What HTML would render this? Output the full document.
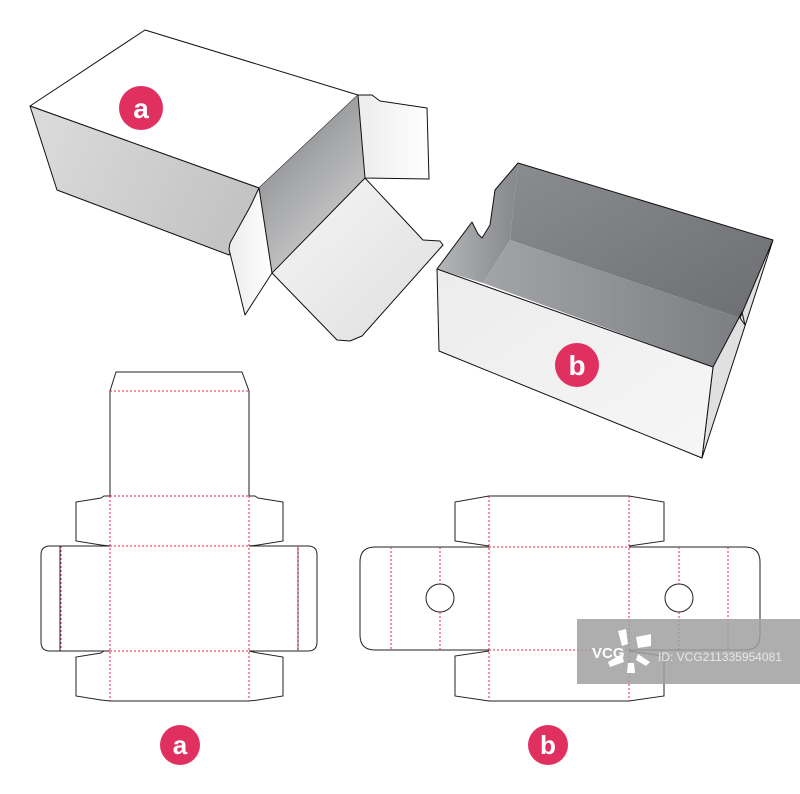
<!DOCTYPE html>
<html><head><meta charset="utf-8"><style>
html,body{margin:0;padding:0;background:#fff;}
svg{display:block;}
</style></head><body>
<svg width="800" height="794" viewBox="0 0 800 794" xmlns="http://www.w3.org/2000/svg">
<defs>
<linearGradient id="gSide" x1="0" y1="0" x2="1" y2="0.3">
<stop offset="0" stop-color="#dcdcdc"/><stop offset="1" stop-color="#c4c4c4"/></linearGradient>
<linearGradient id="gIn" x1="0" y1="0" x2="0.6" y2="1">
<stop offset="0" stop-color="#7a7c80"/><stop offset="1" stop-color="#d0d0d0"/></linearGradient>
<linearGradient id="gFlap" x1="0" y1="0" x2="1" y2="0">
<stop offset="0" stop-color="#ececec"/><stop offset="1" stop-color="#ffffff"/></linearGradient>
<linearGradient id="gBot" x1="0" y1="0" x2="1" y2="1">
<stop offset="0" stop-color="#f6f6f6"/><stop offset="1" stop-color="#dedede"/></linearGradient>
<linearGradient id="gBack" x1="0" y1="0" x2="1" y2="1">
<stop offset="0" stop-color="#8a8c90"/><stop offset="1" stop-color="#6c6e72"/></linearGradient>
<linearGradient id="gFloor" x1="0" y1="0" x2="1" y2="0">
<stop offset="0" stop-color="#a2a4a8"/><stop offset="1" stop-color="#7c7e82"/></linearGradient>
<linearGradient id="gLW" x1="0" y1="0" x2="1" y2="0">
<stop offset="0" stop-color="#b4b6b8"/><stop offset="1" stop-color="#85878b"/></linearGradient>
<linearGradient id="gFront" x1="0" y1="0" x2="1" y2="1">
<stop offset="0" stop-color="#ececec"/><stop offset="1" stop-color="#f6f6f6"/></linearGradient>
</defs>
<g stroke="#111" stroke-width="1" stroke-linejoin="round">
<polygon points="145,30 358,95 259,188 30,106" fill="#fff"/>
<polygon points="30,106 259,188 229,255 57,190" fill="url(#gSide)"/>
<polygon points="259,188 358,95 365,178 272,272" fill="url(#gIn)" stroke="none"/>
<polygon points="358,95 372,95 380,101 427,108 429,179 365,178" fill="url(#gFlap)"/>
<polygon points="259,188 250,207 230,243 229,249 245,315 272,273" fill="url(#gFlap)"/>
<polygon points="272,273 337,340 350,341 362,336 443,245 440,241 423,240 365,178" fill="url(#gBot)"/>
<polygon points="518,163 773,240 740,318 510,240" fill="url(#gBack)" stroke="none"/>
<polygon points="510,240 740,318 713,367 483,283" fill="url(#gFloor)" stroke="none"/>
<polygon points="437,269 472,222 478,234 482,238 490,225 495,190 518,163 510,240 483,283" fill="url(#gLW)" stroke="none"/>
<polyline points="437,269 472,222 478,234 482,238 490,225 495,190 518,163 773,240" fill="none"/>
<polygon points="713,367 742,312 745,325 740,318 773,240 702,458" fill="#e0e0e0"/>
<polygon points="437,269 713,367 702,458 439,351" fill="url(#gFront)"/>
</g>
<circle cx="141" cy="108" r="22" fill="#e03060"/>
<text x="141" y="118" font-family="Liberation Sans, sans-serif" font-weight="bold" font-size="28" fill="#fff" text-anchor="middle">a</text>
<circle cx="577" cy="365" r="22" fill="#e03060"/>
<text x="577" y="375" font-family="Liberation Sans, sans-serif" font-weight="bold" font-size="28" fill="#fff" text-anchor="middle">b</text>

<g fill="none" stroke="#222" stroke-width="1">
<path d="M110,496 V391 L116,372 H242 L249,391 V496"/>
<path d="M110,496 H104 L101,498 L76,502 V541 L101,545 L110,546"/>
<path d="M249,496 H255 L258,498 L283,502 V541 L258,545 L249,546"/>
<path d="M110,546 H50 Q41,546 41,555 V642 Q41,651 50,651 H110"/>
<path d="M249,546 H308 Q317,546 317,555 V642 Q317,651 308,651 H249"/>
<path d="M110,651 H104 L101,653 L76,657 V696 L101,700 L110,701 H249 L258,700 L283,696 V657 L258,653 L249,651"/>
<line x1="60" y1="546" x2="60" y2="651"/>
<line x1="298" y1="546" x2="298" y2="651"/>
</g>
<g fill="none" stroke="#e8204a" stroke-width="1" stroke-dasharray="2,2">
<line x1="110" y1="391" x2="249" y2="391"/>
<line x1="110" y1="496" x2="249" y2="496"/>
<line x1="110" y1="546" x2="249" y2="546"/>
<line x1="110" y1="651" x2="249" y2="651"/>
<line x1="110" y1="496" x2="110" y2="701"/>
<line x1="249" y1="496" x2="249" y2="701"/>
<line x1="61" y1="546" x2="61" y2="651"/>
<line x1="298" y1="546" x2="298" y2="651"/>
</g>

<g fill="none" stroke="#222" stroke-width="1">
<path d="M489,496 L455,502 V541 L489,546 M489,496 H629 L664,502 V541 L629,546"/>
<path d="M489,547 H375 Q360,547 360,562 V635 Q360,650 375,650 H489 M629,547 H745 Q760,547 760,562 V635 Q760,650 745,650 H629"/>
<path d="M489,651 L455,656 V696 L489,701 H629 L664,696 V656 L629,651"/>
<circle cx="440" cy="598" r="14"/>
<circle cx="679" cy="598" r="14"/>
</g>
<g fill="none" stroke="#e8204a" stroke-width="1" stroke-dasharray="2,2">
<line x1="489" y1="547" x2="629" y2="547"/>
<line x1="489" y1="650" x2="629" y2="650"/>
<line x1="391" y1="547" x2="391" y2="650"/>
<line x1="728" y1="547" x2="728" y2="650"/>
<line x1="440" y1="547" x2="440" y2="584"/>
<line x1="440" y1="612" x2="440" y2="650"/>
<line x1="679" y1="547" x2="679" y2="584"/>
<line x1="679" y1="612" x2="679" y2="650"/>
<line x1="489" y1="496" x2="489" y2="701"/>
<line x1="629" y1="496" x2="629" y2="701"/>
</g>

<circle cx="180" cy="745" r="20" fill="#e03060"/>
<text x="180" y="754" font-family="Liberation Sans, sans-serif" font-weight="bold" font-size="26" fill="#fff" text-anchor="middle">a</text>
<circle cx="548" cy="745" r="20" fill="#e03060"/>
<text x="548" y="754" font-family="Liberation Sans, sans-serif" font-weight="bold" font-size="26" fill="#fff" text-anchor="middle">b</text>

<rect x="577" y="619" width="223" height="65" fill="#a0a0a0" opacity="0.85"/>
<text x="592" y="658" font-family="Liberation Sans, sans-serif" font-weight="bold" font-size="15" fill="#fff">VCG</text>
<g fill="#fff">
<polygon points="618,631 626,629 628,644 622,646"/>
<polygon points="636,637 651,634 651,646 638,648"/>
<polygon points="608,662 622,654 624,662 610,667"/>
<polygon points="628,663 634,663 635,673 627,673"/>
<polygon points="638,654 650,662 646,666 636,660"/>
</g>
<text x="658" y="661" font-family="Liberation Sans, sans-serif" font-size="12" fill="#e8e8e8">ID: VCG211335954081</text>
</svg>
</body></html>
